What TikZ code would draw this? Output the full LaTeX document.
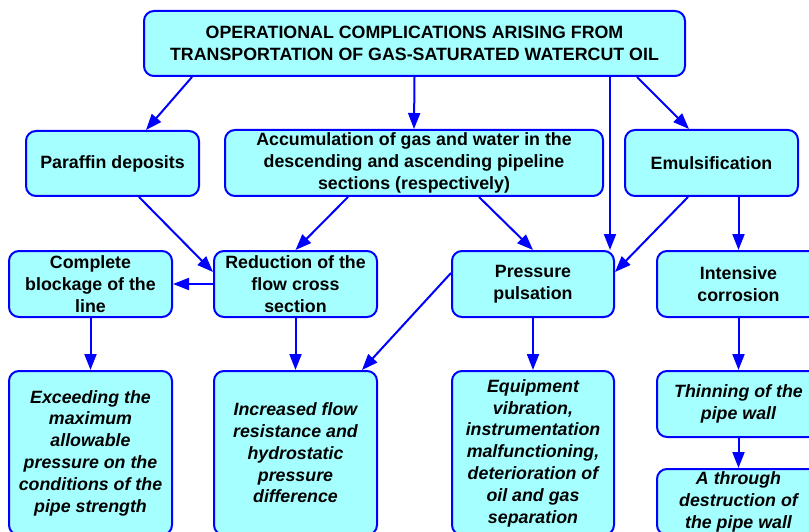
\documentclass[tikz,border=0pt]{standalone}
\usepackage{fontspec}
\setmainfont{Liberation Sans}
\usetikzlibrary{arrows.meta,calc}
\definecolor{boxcyan}{RGB}{166,255,255}
\definecolor{lineblue}{RGB}{0,0,255}
\begin{document}
\begin{tikzpicture}[x=1pt,y=-1pt,
  box/.style={draw=lineblue, line width=2pt, fill=boxcyan, rounded corners=10pt,
    align=center, inner sep=0pt, font=\fontsize{17.8}{21.8}\selectfont\bfseries},
  ibox/.style={box, font=\fontsize{17.8}{21.8}\selectfont\bfseries\itshape},
  arr/.style={draw=lineblue, line width=2pt, -{Triangle[length=16pt,width=12pt]}}]
\useasboundingbox (0,0) rectangle (809,532);
\node[box, minimum width=541pt, minimum height=65pt] (top) at (414.5,43.5)
  {OPERATIONAL COMPLICATIONS ARISING FROM\\TRANSPORTATION OF GAS-SATURATED WATERCUT OIL};
\node[box, minimum width=173pt, minimum height=65pt] (paraf) at (112.5,163.5) {Paraffin deposits};
\node[box, minimum width=378pt, minimum height=66pt] (accum) at (414,163)
  {Accumulation of gas and water in the\\descending and ascending pipeline\\sections (respectively)};
\node[box, minimum width=173pt, minimum height=66pt] (emul) at (711.5,163) {Emulsification};
\node[box, minimum width=163pt, minimum height=66pt] (block) at (90.5,284) {Complete\\blockage of the\\line};
\node[box, minimum width=163pt, minimum height=66pt] (reduc) at (295.5,284) {Reduction of the\\flow cross\\section};
\node[box, minimum width=162pt, minimum height=66pt] (puls) at (533,284) {Pressure\\pulsation};
\node[box, minimum width=163pt, minimum height=66pt] (corr) at (738.5,284) {Intensive\\corrosion};
\node[ibox, minimum width=163pt, minimum height=164pt] (exceed) at (90.5,453)
  {Exceeding the\\maximum\\allowable\\pressure on the\\conditions of the\\pipe strength};
\node[ibox, minimum width=163pt, minimum height=164pt] (incr) at (295.5,453)
  {Increased flow\\resistance and\\hydrostatic\\pressure\\difference};
\node[ibox, minimum width=162pt, minimum height=164pt] (equip) at (533,453)
  {Equipment\\vibration,\\instrumentation\\malfunctioning,\\deterioration of\\oil and gas\\separation};
\node[ibox, minimum width=163pt, minimum height=66pt] (thin) at (738.5,404) {Thinning of the\\pipe wall};
\node[ibox, minimum width=163pt, minimum height=66pt] (through) at (738.5,502) {A through\\destruction of\\the pipe wall};
% connectors
\coordinate (pNE) at ([xshift=-5pt]puls.north east);
\draw[arr] ([xshift=49pt]top.south west) -- ([xshift=121pt]paraf.north west);
\draw[arr] (top.south) -- (accum.north);
\draw[arr] (top.south -| pNE) -- (pNE);
\draw[arr] ([xshift=-49pt]top.south east) -- ([xshift=65pt]emul.north west);
\draw[arr] ([xshift=114pt]paraf.south west) -- ([yshift=12pt]reduc.west);
\draw[arr] ([xshift=124pt]accum.south west) -- (reduc.north);
\draw[arr] ([xshift=255pt]accum.south west) -- (puls.north);
\draw[arr] ([xshift=64pt]emul.south west) -- ([yshift=12pt]puls.east);
\draw[arr] (emul.south -| corr.north) -- (corr.north);
\draw[arr] (reduc.west) -- (block.east);
\draw[arr] (block.south) -- (exceed.north);
\draw[arr] (reduc.south) -- (incr.north);
\draw[arr] ([yshift=11pt]puls.west) -- ([xshift=-16pt]incr.north east);
\draw[arr] (puls.south) -- (equip.north);
\draw[arr] (corr.south) -- (thin.north);
\draw[arr] (thin.south) -- (through.north);
\end{tikzpicture}
\end{document}
